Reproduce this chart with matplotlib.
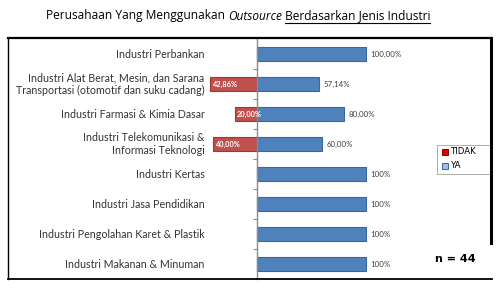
import matplotlib
matplotlib.use("Agg")
import matplotlib.pyplot as plt
from matplotlib.lines import Line2D
from matplotlib.patches import Rectangle
from matplotlib.transforms import blended_transform_factory

categories = [
    "Industri Perbankan",
    "Industri Alat Berat, Mesin, dan Sarana\nTransportasi (otomotif dan suku cadang)",
    "Industri Farmasi & Kimia Dasar",
    "Industri Telekomunikasi &\nInformasi Teknologi",
    "Industri Kertas",
    "Industri Jasa Pendidikan",
    "Industri Pengolahan Karet & Plastik",
    "Industri Makanan & Minuman",
]
ya = [100.0, 57.14, 80.0, 60.0, 100.0, 100.0, 100.0, 100.0]
tidak = [0.0, 42.86, 20.0, 40.0, 0.0, 0.0, 0.0, 0.0]
ya_labels = ["100,00%", "57,14%", "80,00%", "60,00%", "100%", "100%", "100%", "100%"]
tidak_labels = ["", "42,86%", "20,00%", "40,00%", "", "", "", ""]
series_names = ["TIDAK", "YA"]
title_parts = ["Perusahaan Yang Menggunakan ", "Outsource", " Berdasarkan Jenis Industri"]
n_text = "n = 44"

W, H = 500, 293
fig = plt.figure(figsize=(W / 100, H / 100), dpi=100)
fig.patch.set_facecolor("white")

def fx(x):
    return x / W

def fy(y):
    return 1 - y / H

FONT = "Lato"

# axes
ax_l, ax_r, ax_t, ax_b = 208, 491, 39, 279
ax = fig.add_axes([fx(ax_l), fy(ax_b), fx(ax_r - ax_l), (ax_b - ax_t) / H])
ppu = 1.09
ax.set_xlim(-(257 - ax_l) / ppu, (ax_r - 257) / ppu)
n = len(categories)
ax.set_ylim(n - 0.5, -0.5)
ax.patch.set_alpha(0)

ys = list(range(n))
bh = 0.46
ax.barh(ys, ya, height=bh, color="#4F81BD", edgecolor="#3A679C", linewidth=0.8, zorder=2)
neg = [-v for v in tidak]
ax.barh(ys, neg, height=bh, color="#C0504D", edgecolor="#9A3B38", linewidth=0.8, zorder=2)

for s in ["top", "right", "bottom"]:
    ax.spines[s].set_visible(False)
ax.spines["left"].set_position(("data", 0))
ax.spines["left"].set_color("#8C8C8C")
ax.spines["left"].set_linewidth(1.0)
ax.spines["left"].set_zorder(3)
ax.set_xticks([])
ax.set_yticks(ys)
ax.set_yticklabels([])
ax.tick_params(axis="y", which="major", length=0)
ax.set_yticks([i + 0.5 for i in range(n - 1)], minor=True)
ax.tick_params(axis="y", which="minor", length=3, direction="out", color="#8C8C8C", width=0.8)

tr = blended_transform_factory(ax.transAxes, ax.transData)
for i, c in enumerate(categories):
    ax.text(-0.012, i, c, transform=tr, ha="right", va="center", fontsize=7.7,
            color="#333333", family=FONT, linespacing=1.15)

for i in range(n):
    ax.text(ya[i] + 4, i + 0.03, ya_labels[i], ha="left", va="center", fontsize=5.7,
            color="#404040", family=FONT)
    if tidak[i] > 0:
        ax.text(-tidak[i] + 1.5, i + 0.02, tidak_labels[i], ha="left", va="center",
                fontsize=5.4, color="white", family=FONT, fontweight="bold", zorder=4)

# frame lines
fig.add_artist(Line2D([fx(8), fx(491)], [fy(38), fy(38)], color="black", lw=1.6))
fig.add_artist(Line2D([fx(8), fx(8)], [fy(38), fy(278.5)], color="black", lw=1.0))
fig.add_artist(Line2D([fx(8), fx(492)], [fy(278.5), fy(278.5)], color="black", lw=1.3))
fig.add_artist(Line2D([fx(491), fx(491)], [fy(38), fy(243)], color="black", lw=2.2))

# legend
fig.add_artist(Rectangle((fx(437), fy(174)), fx(491 - 437), (174 - 145) / H,
                         facecolor="white", edgecolor="#A0A0A0", lw=0.6))
leg_cols = [("#E00000", "#8C0000"), ("#9CC0E8", "#3A679C")]
leg_y = [152, 166]
for (fc, ec), name, yy in zip(leg_cols, series_names, leg_y):
    fig.add_artist(Rectangle((fx(442), fy(yy + 3)), fx(6), 6 / H, facecolor=fc,
                             edgecolor=ec, lw=0.7))
    fig.text(fx(451), fy(yy), name, ha="left", va="center", fontsize=6.2,
             color="black", family="DejaVu Sans")

fig.text(fx(455), fy(259), n_text, ha="center", va="center", fontsize=8.0,
         fontweight="bold", color="black", family="DejaVu Sans")

# title with mixed styles
fig.canvas.draw()
renderer = fig.canvas.get_renderer()
styles = [dict(style="normal"), dict(style="italic"), dict(style="normal")]
tsize = 8.6
tfont = "Open Sans"
texts = []
for part, st in zip(title_parts, styles):
    t = fig.text(0, fy(16), part, ha="left", va="center", fontsize=tsize, family=tfont,
                 color="black", fontweight="medium", **st)
    texts.append(t)
widths = [t.get_window_extent(renderer).width for t in texts]
total = sum(widths)
x0 = 238 - total / 2
xs = []
cur = x0
for t, w in zip(texts, widths):
    t.set_x(cur / W)
    xs.append(cur)
    cur += w
# underline third part (skip leading space)
sp = fig.text(0, 0, " ", fontsize=tsize, family=tfont)
spw = sp.get_window_extent(renderer).width
sp.remove()
fig.add_artist(Line2D([(xs[2] + spw) / W, (xs[2] + widths[2]) / W], [fy(22.5), fy(22.5)],
                      color="black", lw=0.8))

fig.savefig("out.png", dpi=100)
